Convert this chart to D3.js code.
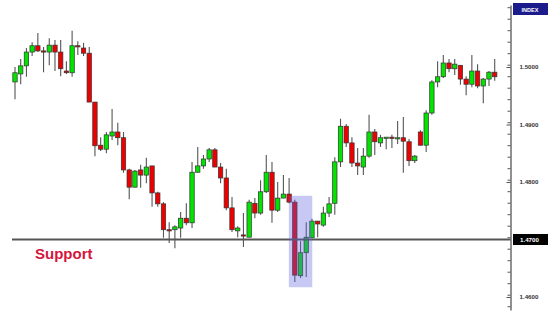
<!DOCTYPE html>
<html>
<head>
<meta charset="utf-8">
<script src="https://cdn.jsdelivr.net/npm/d3@7"></script>
<style>
body { margin: 0; background: #fff; }
svg { display: block; }
</style>
</head>
<body>
<svg></svg>
<script>
// candle values
var opens  = [1.4974,1.4988,1.5002,1.5026,1.5037,1.5028,1.5026,1.5038,1.5026,1.4993,
              1.4990,1.5037,1.5033,1.5024,1.4939,1.4864,1.4857,1.4880,1.4887,1.4877,
              1.4821,1.4791,1.4821,1.4812,1.4828,1.4781,1.4762,1.4717,1.4717,1.4720,
              1.4737,1.4729,1.4817,1.4828,1.4840,1.4856,1.4826,1.4807,1.4755,1.4715,
              1.4708,1.4704,1.4763,1.4746,1.4783,1.4817,1.4751,1.4772,1.4779,1.4765,
              1.4637,1.4677,1.4703,1.4732,1.4725,1.4746,1.4763,1.4835,1.4897,1.4868,
              1.4833,1.4826,1.4845,1.4887,1.4868,1.4877,1.4878,1.4875,1.4877,1.4870,
              1.4837,1.4887,1.4864,1.4920,1.4974,1.4983,1.5007,1.4997,1.5003,1.4979,
              1.4970,1.4993,1.4967,1.4979,1.4991]
var highs  = [1.5000,1.5014,1.5033,1.5043,1.5059,1.5035,1.5050,1.5047,1.5047,1.5010,
              1.5063,1.5045,1.5042,1.5035,1.4939,1.4878,1.4887,1.4927,1.4903,1.4887,
              1.4823,1.4821,1.4830,1.4842,1.4828,1.4783,1.4765,1.4730,1.4725,1.4748,
              1.4763,1.4835,1.4861,1.4847,1.4859,1.4859,1.4833,1.4823,1.4774,1.4723,
              1.4746,1.4769,1.4772,1.4803,1.4847,1.4835,1.4800,1.4812,1.4807,1.4769,
              1.4697,1.4730,1.4736,1.4732,1.4757,1.4774,1.4843,1.4910,1.4901,1.4878,
              1.4859,1.4859,1.4917,1.4892,1.4882,1.4878,1.4882,1.4906,1.4913,1.4875,
              1.4847,1.4890,1.4925,1.4977,1.5010,1.5021,1.5014,1.5014,1.5003,1.4984,
              1.5021,1.5005,1.4981,1.4993,1.5014]
var lows   = [1.4944,1.4970,1.4983,1.5019,1.5026,1.4991,1.5003,1.4993,1.4984,1.4988,
              1.4983,1.5021,1.5019,1.4939,1.4845,1.4854,1.4850,1.4873,1.4864,1.4816,
              1.4770,1.4791,1.4790,1.4798,1.4757,1.4757,1.4703,1.4694,1.4685,1.4703,
              1.4725,1.4720,1.4816,1.4823,1.4835,1.4826,1.4798,1.4751,1.4713,1.4704,
              1.4687,1.4704,1.4737,1.4743,1.4781,1.4729,1.4748,1.4772,1.4763,1.4626,
              1.4633,1.4635,1.4703,1.4704,1.4722,1.4739,1.4743,1.4826,1.4861,1.4826,
              1.4812,1.4812,1.4842,1.4847,1.4861,1.4857,1.4859,1.4866,1.4816,1.4828,
              1.4833,1.4863,1.4852,1.4917,1.4965,1.4981,1.4991,1.4986,1.4969,1.4951,
              1.4965,1.4963,1.4937,1.4967,1.4976]
var closes = [1.4990,1.5002,1.5026,1.5037,1.5028,1.5026,1.5038,1.5026,1.4997,1.4990,
              1.5037,1.5035,1.5024,1.4939,1.4863,1.4857,1.4882,1.4887,1.4877,1.4821,
              1.4791,1.4819,1.4812,1.4826,1.4781,1.4762,1.4717,1.4715,1.4722,1.4737,
              1.4729,1.4817,1.4828,1.4840,1.4856,1.4826,1.4807,1.4755,1.4717,1.4720,
              1.4706,1.4765,1.4746,1.4783,1.4817,1.4751,1.4772,1.4779,1.4765,1.4638,
              1.4677,1.4704,1.4732,1.4727,1.4746,1.4762,1.4835,1.4897,1.4868,1.4833,
              1.4828,1.4845,1.4887,1.4870,1.4877,1.4878,1.4877,1.4877,1.4871,1.4837,
              1.4845,1.4864,1.4920,1.4974,1.4983,1.5007,1.4997,1.5005,1.4979,1.4970,
              1.4993,1.4967,1.4979,1.4991,1.4983]

var labelTicks = [1.4600, 1.4700, 1.4800, 1.4900, 1.5000]
var supportLevel = 1.4700
var highlightIdx = [49, 51]
var highlightPrice = [1.4617, 1.4776]

var screen = {width: 548, height: 322}

var svg = d3.select("svg")
    .attr("width", screen.width)
    .attr("height", screen.height)

var candles = opens.map(function(o, i)
{
    return {i: i, open: o, high: highs[i], low: lows[i], close: closes[i]}
})

var xscale = d3.scaleLinear()
    .domain([0, candles.length - 1])
    .range([15, 494.7])

var yscale = d3.scaleLinear()
    .domain([1.46, 1.50])
    .range([297, 67])

var axisX = 510.5

// axis scale: same mapping, just longer
var yaxisScale = yscale.copy()
    .domain([yscale.invert(310), yscale.invert(5)])
    .range([310, 5])

// minor ticks every 0.002
var minorTicks = d3.range(1.4584, 1.5140, 0.002)

svg.append("g")
    .attr("transform", "translate(" + axisX + ",0)")
    .call(d3.axisRight(yaxisScale).tickValues(minorTicks).tickSize(-3).tickSizeOuter(0).tickFormat(""))
    .call(function(g)
    {
        g.select(".domain").attr("stroke", "#555").attr("stroke-width", 1.3)
        g.selectAll(".tick line").attr("stroke", "#555")
    })

// the support level label sits in its own black box, so leave it out here
svg.append("g")
    .attr("transform", "translate(" + axisX + ",0)")
    .call(d3.axisRight(yaxisScale)
        .tickValues(labelTicks.filter(function(t) { return t !== supportLevel }))
        .tickSize(-4).tickPadding(9).tickFormat(d3.format(".4f")))
    .call(function(g)
    {
        g.select(".domain").remove()
        g.selectAll(".tick line").attr("stroke", "#555")
        g.selectAll(".tick text")
            .attr("fill", "#333")
            .attr("font-family", "Liberation Sans, Arial, sans-serif")
            .attr("font-weight", "bold")
            .attr("font-size", 6.2)
    })

// INDEX header box
svg.append("rect")
    .attr("x", 513).attr("y", 3).attr("width", 35).attr("height", 12)
    .attr("fill", "#1b1b8c")
svg.append("text")
    .attr("x", 530).attr("y", 11.5)
    .attr("text-anchor", "middle")
    .attr("fill", "#fff")
    .attr("font-family", "Liberation Sans, Arial, sans-serif")
    .attr("font-weight", "bold")
    .attr("font-size", 5.5)
    .text("INDEX")

// wicks
svg.append("g").selectAll("line")
    .data(candles)
    .enter()
    .append("line")
    .attr("x1", function(d) { return xscale(d.i) })
    .attr("x2", function(d) { return xscale(d.i) })
    .attr("y1", function(d) { return yscale(d.high) })
    .attr("y2", function(d) { return yscale(d.low) })
    .attr("stroke", "#555")
    .attr("stroke-width", 1.1)

// bodies
var bodyW = 4.4
svg.append("g").selectAll("rect")
    .data(candles)
    .enter()
    .append("rect")
    .attr("x", function(d) { return xscale(d.i) - bodyW / 2 })
    .attr("y", function(d) { return yscale(Math.max(d.open, d.close)) })
    .attr("width", bodyW)
    .attr("height", function(d)
    {
        return Math.max(1.2, yscale(Math.min(d.open, d.close)) - yscale(Math.max(d.open, d.close)))
    })
    .attr("fill", function(d) { return d.close >= d.open ? "#00e400" : "#ee0000" })
    .attr("stroke", "#333")
    .attr("stroke-width", 0.7)

// support line
svg.append("line")
    .attr("x1", 12).attr("x2", axisX)
    .attr("y1", yscale(supportLevel)).attr("y2", yscale(supportLevel))
    .attr("stroke", "#555")
    .attr("stroke-width", 2)

// highlight box over the breakdown candles
svg.append("rect")
    .attr("x", xscale(highlightIdx[0]) - 6)
    .attr("y", yscale(highlightPrice[1]))
    .attr("width", xscale(highlightIdx[1]) - xscale(highlightIdx[0]) + 12)
    .attr("height", yscale(highlightPrice[0]) - yscale(highlightPrice[1]))
    .attr("fill", "#6060e0")
    .attr("opacity", 0.35)

// current level box on the axis
svg.append("rect")
    .attr("x", 513).attr("y", yscale(supportLevel) - 5.5).attr("width", 35).attr("height", 11)
    .attr("fill", "#000")
svg.append("text")
    .attr("x", 520).attr("y", yscale(supportLevel) + 2.2)
    .attr("fill", "#fff")
    .attr("font-family", "Liberation Sans, Arial, sans-serif")
    .attr("font-weight", "bold")
    .attr("font-size", 6.2)
    .text(d3.format(".4f")(supportLevel))

svg.append("text")
    .attr("x", 35).attr("y", 258.5)
    .attr("fill", "#d4163c")
    .attr("font-family", "Liberation Sans, Arial, sans-serif")
    .attr("font-weight", "bold")
    .attr("font-size", 15)
    .text("Support")
</script>
</body>
</html>
